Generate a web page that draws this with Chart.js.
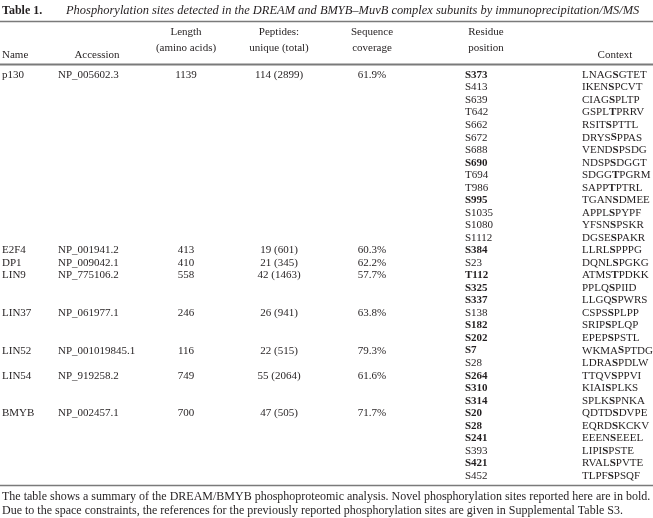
<!DOCTYPE html>
<html>
<head>
<meta charset="utf-8">
<script src="https://cdn.jsdelivr.net/npm/chart.js@4.4.1/dist/chart.umd.min.js"></script>
<style>
  body { margin: 0; background: #fff; }
  #wrap { width: 653px; height: 518px; }
</style>
</head>
<body>
<div id="wrap"><canvas id="table-canvas" width="653" height="518"></canvas></div>
<script>
// protein level data
const names = ["p130", "E2F4", "DP1", "LIN9", "LIN37", "LIN52", "LIN54", "BMYB"];
const accessions = ["NP_005602.3", "NP_001941.2", "NP_009042.1", "NP_775106.2", "NP_061977.1", "NP_001019845.1", "NP_919258.2", "NP_002457.1"];
const lengths = [1139, 413, 410, 558, 246, 116, 749, 700];
const uniquePeptides = [114, 19, 21, 42, 26, 22, 55, 47];
const totalPeptides = [2899, 601, 345, 1463, 941, 515, 2064, 505];
const coverage = [61.9, 60.3, 62.2, 57.7, 63.8, 79.3, 61.6, 71.7];
const siteCounts = [14, 1, 1, 3, 3, 2, 3, 6];

// site level data
const residues = ["S373", "S413", "S639", "T642", "S662", "S672", "S688", "S690", "T694", "T986", "S995", "S1035", "S1080", "S1112",
    "S384", "S23", "T112", "S325", "S337", "S138", "S182", "S202", "S7", "S28", "S264", "S310", "S314",
    "S20", "S28", "S241", "S393", "S421", "S452"];
const contexts = ["LNAGSGTET", "IKENSPCVT", "CIAGSPLTP", "GSPLTPRRV", "RSITSPTTL", "DRYSSPPAS", "VENDSPSDG", "NDSPSDGGT", "SDGGTPGRM", "SAPPTPTRL", "TGANSDMEE", "APPLSPYPF", "YFSNSPSKR", "DGSESPAKR",
    "LLRLSPPPG", "DQNLSPGKG", "ATMSTPDKK", "PPLQSPIID", "LLGQSPWRS", "CSPSSPLPP", "SRIPSPLQP", "EPEPSPSTL", "WKMASPTDG", "LDRASPDLW", "TTQVSPPVI", "KIAISPLKS", "SPLKSPNKA",
    "QDTDSDVPE", "EQRDSKCKV", "EEENSEEEL", "LIPISPSTE", "RVALSPVTE", "TLPFSPSQF"];
const novel = [true, false, false, false, false, false, false, true, false, false, true, false, false, false,
    true, false, true, true, true, false, true, true, true, false, true, true, true,
    true, true, true, false, true, false];

const titleLabel = "Table 1.";
const titleText = "Phosphorylation sites detected in the DREAM and BMYB\u2013MuvB complex subunits by immunoprecipitation/MS/MS";
const headers = [["Name"], ["Accession"], ["Length", "(amino acids)"], ["Peptides:", "unique (total)"], ["Sequence", "coverage"], ["Residue", "position"], ["Context"]];
const footnote = [
    "The table shows a summary of the DREAM/BMYB phosphoproteomic analysis. Novel phosphorylation sites reported here are in bold.",
    "Due to the space constraints, the references for the previously reported phosphorylation sites are given in Supplemental Table S3."
];

// layout (x in pixels along the x scale, y in row units along the y scale)
const colX = [2, 58, 186, 279, 372, 465, 582];
const headX = [2, 97, 186, 279, 372, 486, 615];
const headAlign = ["left", "center", "center", "center", "center", "center", "center"];
const colAlign = ["left", "left", "center", "center", "center", "left", "left"];
const FONT = "'Liberation Serif', 'Times New Roman', serif";
const textColor = "#231f20";
const ruleColor = "#7a7a7a";

// build one dataset per column
const firstRow = [];
let r = 0;
siteCounts.forEach(n => { firstRow.push(r); r += n; });
const rowCount = r;

function proteinColumn(col, texts) {
    return {
        label: headers[col].join(" "),
        align: colAlign[col],
        pointRadius: 0,
        data: texts.map((t, i) => ({ x: colX[col], y: firstRow[i], text: t, bold: false }))
    };
}

const datasets = [
    proteinColumn(0, names),
    proteinColumn(1, accessions),
    proteinColumn(2, lengths.map(String)),
    proteinColumn(3, uniquePeptides.map((u, i) => u + " (" + totalPeptides[i] + ")")),
    proteinColumn(4, coverage.map(c => c.toFixed(1) + "%")),
    {
        label: "Residue position", align: "left", pointRadius: 0,
        data: residues.map((t, i) => ({ x: colX[5], y: i, text: t, bold: novel[i] }))
    },
    {
        label: "Context", align: "left", pointRadius: 0,
        data: contexts.map((t, i) => ({ x: colX[6], y: i, text: t, bold: false, boldAt: 4 }))
    }
];

function drawText(ctx, text, x, y, align, bold, boldAt, size) {
    const normal = size + "px " + FONT;
    const heavy = "bold " + size + "px " + FONT;
    ctx.textBaseline = "middle";
    if (boldAt === undefined) {
        ctx.font = bold ? heavy : normal;
        ctx.textAlign = align;
        ctx.fillText(text, x, y);
        return;
    }
    // context string: central residue in bold
    const parts = [text.slice(0, boldAt), text[boldAt], text.slice(boldAt + 1)];
    const fonts = [normal, heavy, normal];
    ctx.textAlign = "left";
    let cx = x;
    parts.forEach((p, k) => {
        ctx.font = fonts[k];
        ctx.fillText(p, cx, y);
        cx += ctx.measureText(p).width;
    });
}

const tablePlugin = {
    id: "tableText",
    afterDatasetsDraw(chart) {
        const ctx = chart.ctx;
        const xs = chart.scales.x;
        const ys = chart.scales.y;
        const W = chart.width;
        ctx.save();
        ctx.fillStyle = textColor;

        // cells
        chart.data.datasets.forEach((ds, di) => {
            const meta = chart.getDatasetMeta(di);
            meta.data.forEach((pt, i) => {
                const raw = ds.data[i];
                drawText(ctx, raw.text, pt.x, pt.y, ds.align, raw.bold, raw.boldAt, 11);
            });
        });

        // title
        const ty = ys.getPixelForValue(-5.15);
        ctx.textBaseline = "middle";
        ctx.textAlign = "left";
        ctx.font = "bold 12px " + FONT;
        ctx.fillText(titleLabel, xs.getPixelForValue(2), ty);
        ctx.font = "italic 12.45px " + FONT;
        ctx.fillText(titleText, xs.getPixelForValue(66), ty);

        // headers
        headers.forEach((h, c) => {
            const lines = h.length === 1 ? [-1.6] : [-3.45, -2.15];
            h.forEach((line, k) => {
                drawText(ctx, line, xs.getPixelForValue(headX[c]), ys.getPixelForValue(lines[k]), headAlign[c], false, undefined, 11);
            });
        });

        // footnote
        ctx.font = "12px " + FONT;
        ctx.textAlign = "left";
        footnote.forEach((line, k) => {
            ctx.fillText(line, xs.getPixelForValue(2), ys.getPixelForValue(rowCount + 0.68 + k * 1.12));
        });

        // rules
        ctx.strokeStyle = ruleColor;
        [[-4.3, 1.5], [-0.87, 2], [rowCount - 0.28, 1.5]].forEach(([v, w]) => {
            const y = Math.round(ys.getPixelForValue(v)) + 0.5;
            ctx.lineWidth = w;
            ctx.beginPath();
            ctx.moveTo(0, y);
            ctx.lineTo(W, y);
            ctx.stroke();
        });
        ctx.restore();
    }
};

new Chart(document.getElementById("table-canvas").getContext("2d"), {
    type: "scatter",
    data: { datasets: datasets },
    options: {
        responsive: false,
        animation: false,
        events: [],
        layout: { padding: { left: 0, right: 0, top: 68.7, bottom: 35.8 } },
        plugins: { legend: { display: false }, tooltip: { enabled: false }, title: { display: false } },
        scales: {
            x: { type: "linear", min: 0, max: 653, display: false },
            y: { type: "linear", min: -0.5, max: rowCount - 0.5, reverse: true, display: false }
        }
    },
    plugins: [tablePlugin]
});
</script>
</body>
</html>
